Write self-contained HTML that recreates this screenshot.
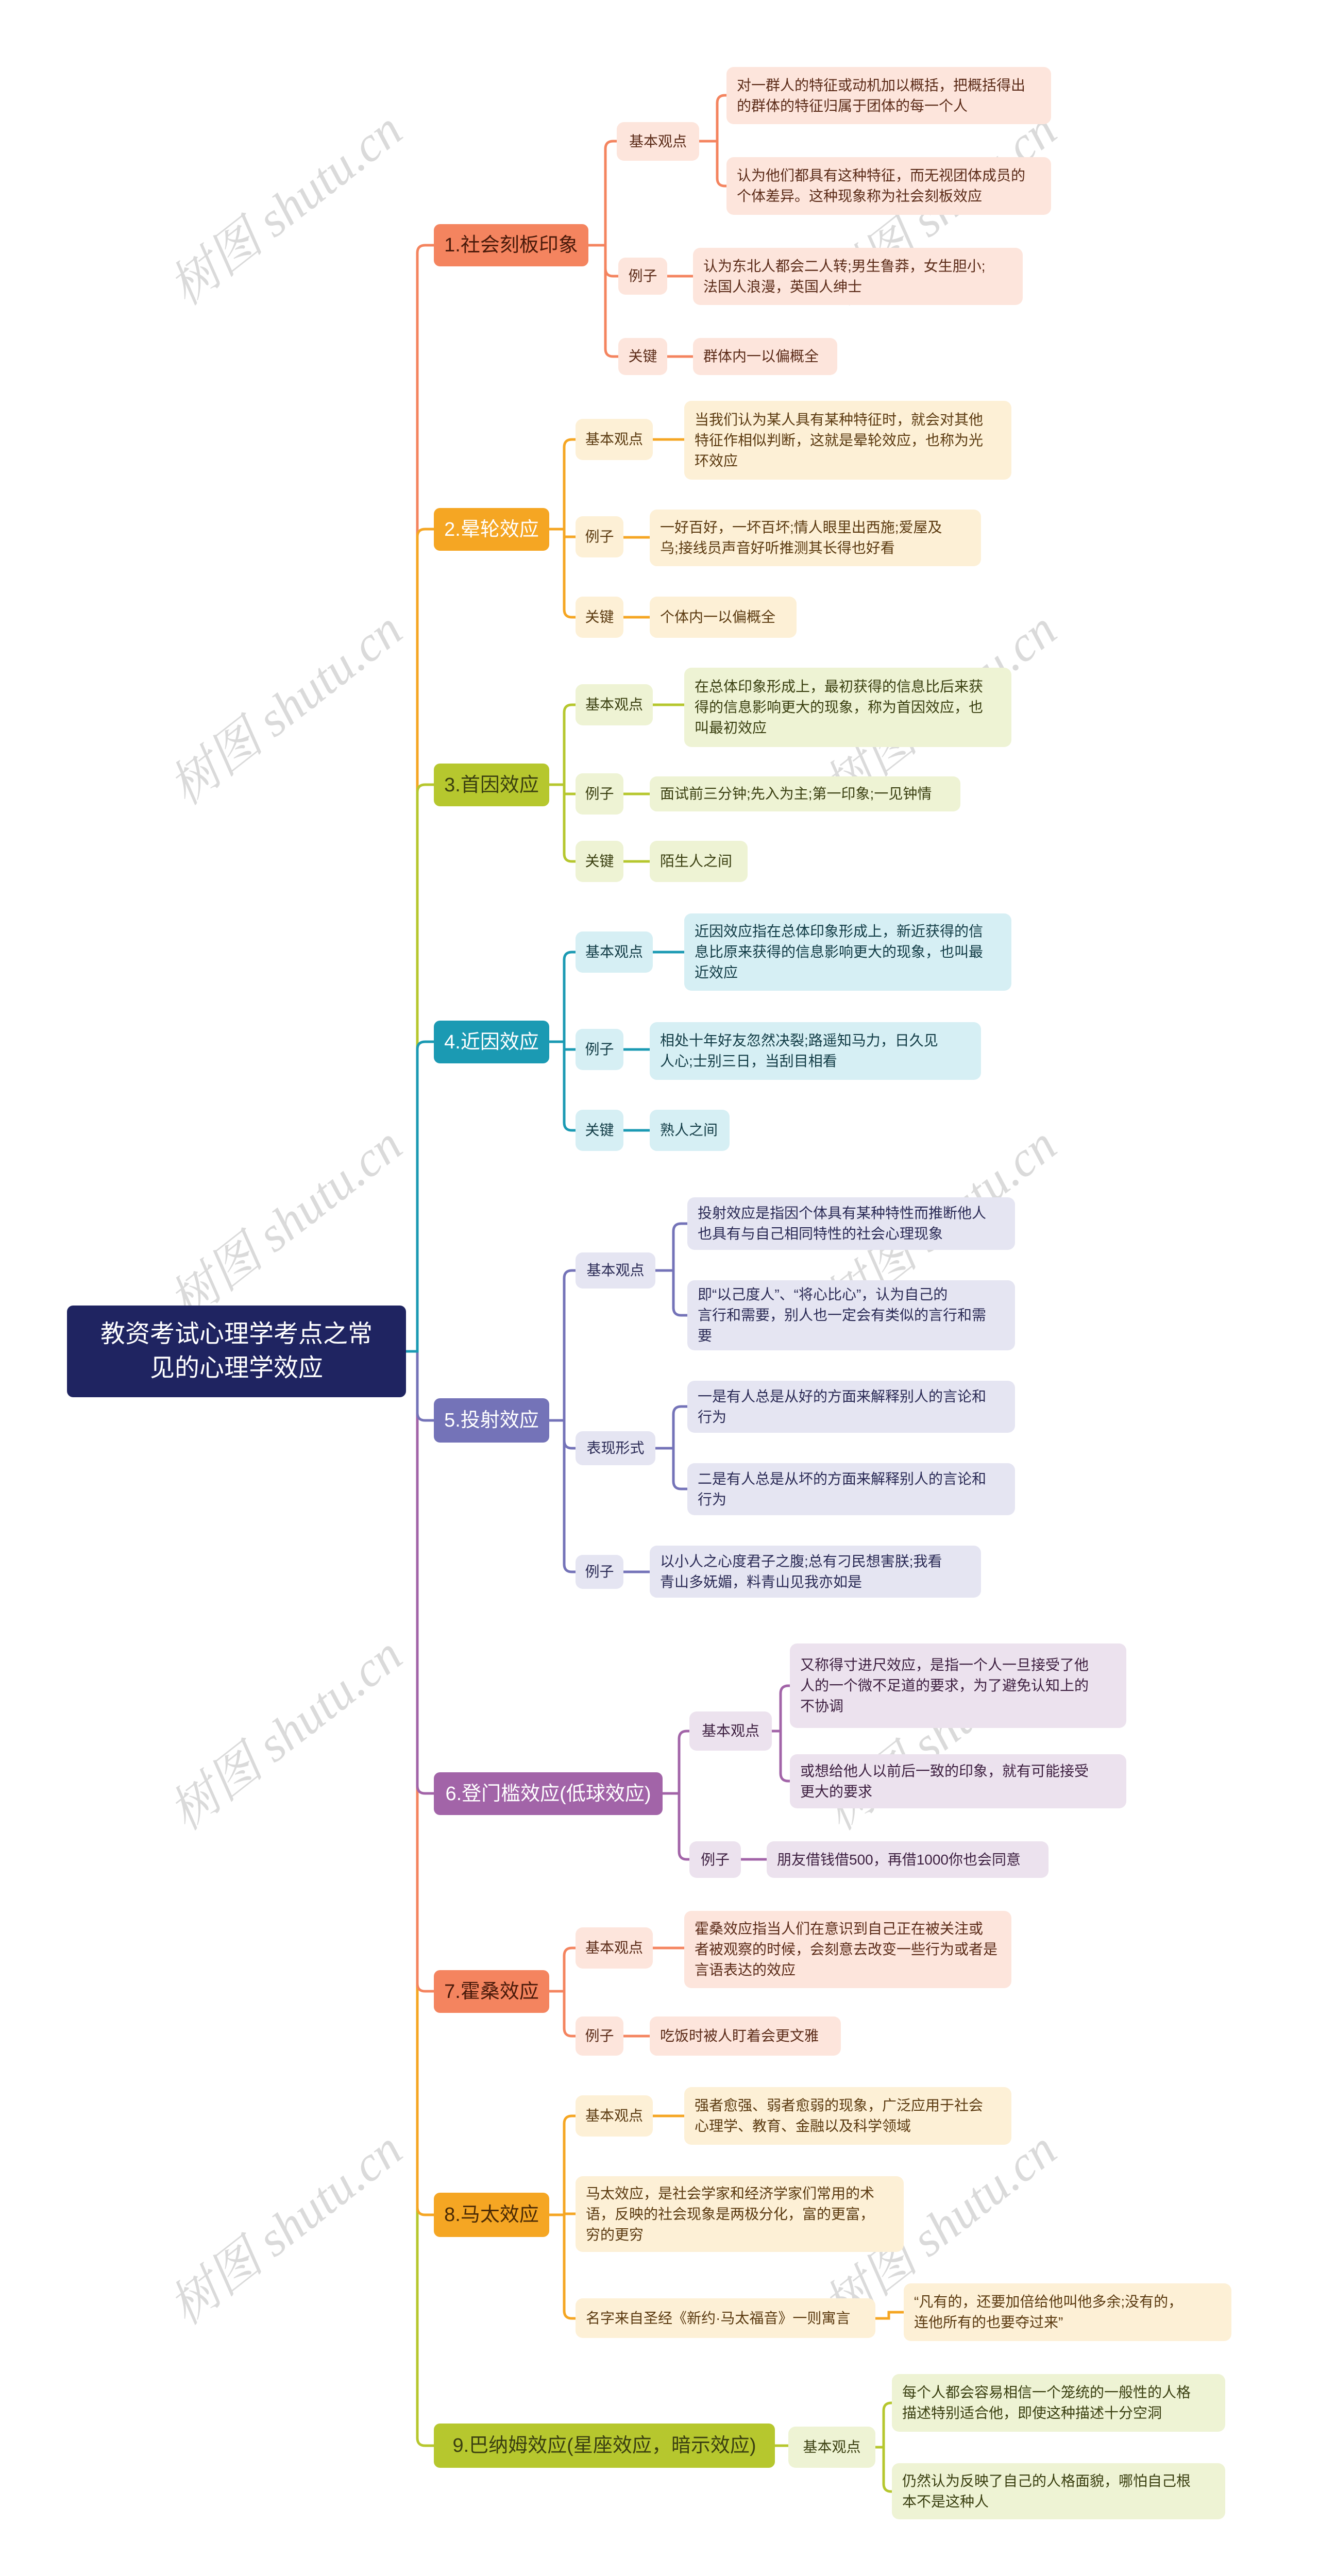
<!DOCTYPE html>
<html><head><meta charset="utf-8">
<style>
html{margin:0;padding:0;width:2560px;height:5097px;overflow:hidden;}
body{margin:0;padding:0;background:#fff;width:2560px;height:5097px;position:relative;overflow:hidden;font-family:"Liberation Sans","Noto Sans CJK SC",sans-serif;}
.n{position:absolute;box-sizing:border-box;border-radius:14px;display:flex;align-items:center;font-size:28px;line-height:40px;padding:0 20px;color:#333;}
.c{justify-content:center;padding:0;}
.m{font-size:38px;justify-content:center;padding:0;border-radius:12px;}
.f1{background:#fde5dc;color:#5b2b18}.f2{background:#fdf0d6;color:#5b3a10}.f3{background:#eef3d4;color:#3a3f10}
.f4{background:#d6eff4;color:#123c46}.f5{background:#e5e5f2;color:#2a2a55}.f6{background:#ece2ee;color:#3d1f40}
.wm{position:absolute;font-family:"Liberation Serif","Noto Serif CJK SC",serif;font-style:italic;font-size:96px;color:rgba(150,150,150,0.35);transform:rotate(-38deg);white-space:nowrap;}
svg{position:absolute;left:0;top:0;}
path{fill:none;stroke-width:5;}
</style></head><body>
<svg width="2560" height="5097">
<path stroke="#b6c72e" d="M788 2623 H810 V4732 Q810 4747 825 4747 H842"/>
<path stroke="#f5a623" d="M810 2623 V4284 Q810 4299 825 4299 H842"/>
<path stroke="#f4845f" d="M810 2623 V3850 Q810 3865 825 3865 H842"/>
<path stroke="#a264a8" d="M810 2623 V3466 Q810 3481 825 3481 H842"/>
<path stroke="#7473b8" d="M810 2623 V2742 Q810 2757 825 2757 H842"/>
<path stroke="#f4845f" d="M810 2623 V491 Q810 476 825 476 H842"/>
<path stroke="#f5a623" d="M810 2623 V1042 Q810 1027 825 1027 H842"/>
<path stroke="#b6c72e" d="M810 2623 V1538 Q810 1523 825 1523 H842"/>
<path stroke="#1b9ab3" d="M788 2623 H810 V2037 Q810 2022 825 2022 H842"/>
<g stroke="#f4845f">
<path d="M1142 476 H1175 V289 Q1175 274 1190 274 H1197"/>
<path d="M1175 476 V521 Q1175 536 1190 536 H1200"/>
<path d="M1175 476 V677 Q1175 692 1190 692 H1200"/>
<path d="M1357 274 H1392 V200 Q1392 185 1407 185 H1410"/>
<path d="M1392 274 V346 Q1392 361 1407 361 H1410"/>
<path d="M1295 536 H1345"/><path d="M1295 692 H1345"/>
</g>
<g stroke="#f5a623">
<path d="M1066 1027 H1095 V868 Q1095 853 1110 853 H1117"/>
<path d="M1095 1027 V1042 H1117"/>
<path d="M1095 1027 V1183 Q1095 1198 1110 1198 H1117"/>
<path d="M1267 853 H1328"/><path d="M1210 1043 H1261"/><path d="M1210 1198 H1261"/>
</g>
<g stroke="#b6c72e">
<path d="M1066 1523 H1095 V1383 Q1095 1368 1110 1368 H1117"/>
<path d="M1095 1523 V1541 H1117"/>
<path d="M1095 1523 V1657 Q1095 1672 1110 1672 H1117"/>
<path d="M1267 1368 H1328"/><path d="M1210 1541 H1261"/><path d="M1210 1672 H1261"/>
</g>
<g stroke="#1b9ab3">
<path d="M1066 2022 H1095 V1863 Q1095 1848 1110 1848 H1117"/>
<path d="M1095 2022 V2037 H1117"/>
<path d="M1095 2022 V2179 Q1095 2194 1110 2194 H1117"/>
<path d="M1267 1848 H1328"/><path d="M1210 2037 H1261"/><path d="M1210 2194 H1261"/>
</g>
<g stroke="#7473b8">
<path d="M1066 2757 H1095 V2481 Q1095 2466 1110 2466 H1117"/>
<path d="M1095 2757 V2796 Q1095 2811 1110 2811 H1117"/>
<path d="M1095 2757 V3036 Q1095 3051 1110 3051 H1117"/>
<path d="M1272 2466 H1307 V2390 Q1307 2375 1322 2375 H1334"/>
<path d="M1307 2466 V2538 Q1307 2553 1322 2553 H1334"/>
<path d="M1272 2811 H1307 V2745 Q1307 2730 1322 2730 H1334"/>
<path d="M1307 2811 V2875 Q1307 2890 1322 2890 H1334"/>
<path d="M1210 3051 H1261"/>
</g>
<g stroke="#a264a8">
<path d="M1286 3481 H1318 V3375 Q1318 3360 1333 3360 H1338"/>
<path d="M1318 3481 V3594 Q1318 3609 1333 3609 H1338"/>
<path d="M1498 3360 H1515 V3287 Q1515 3272 1530 3272 H1533"/>
<path d="M1515 3360 V3442 Q1515 3457 1530 3457 H1533"/>
<path d="M1438 3609 H1488"/>
</g>
<g stroke="#f4845f">
<path d="M1066 3865 H1095 V3796 Q1095 3781 1110 3781 H1117"/>
<path d="M1095 3865 V3937 Q1095 3952 1110 3952 H1117"/>
<path d="M1267 3781 H1328"/><path d="M1210 3952 H1261"/>
</g>
<g stroke="#f5a623">
<path d="M1066 4299 H1095 V4122 Q1095 4107 1110 4107 H1117"/>
<path d="M1095 4299 V4297 H1117"/>
<path d="M1095 4299 V4485 Q1095 4500 1110 4500 H1117"/>
<path d="M1267 4107 H1328"/><path d="M1699 4500 H1725 V4488 H1754"/>
</g>
<g stroke="#b6c72e">
<path d="M1504 4747 H1530"/>
<path d="M1699 4750 H1715 V4679 Q1715 4664 1730 4664 H1731"/>
<path d="M1715 4750 V4821 Q1715 4836 1730 4836 H1731"/>
</g>
</svg>

<div class="wm" style="left:280px;top:330px">树图 shutu.cn</div>
<div class="wm" style="left:1550px;top:330px">树图 shutu.cn</div>
<div class="wm" style="left:280px;top:1300px">树图 shutu.cn</div>
<div class="wm" style="left:1550px;top:1300px">树图 shutu.cn</div>
<div class="wm" style="left:280px;top:2300px">树图 shutu.cn</div>
<div class="wm" style="left:1550px;top:2300px">树图 shutu.cn</div>
<div class="wm" style="left:280px;top:3290px">树图 shutu.cn</div>
<div class="wm" style="left:1550px;top:3290px">树图 shutu.cn</div>
<div class="wm" style="left:280px;top:4250px">树图 shutu.cn</div>
<div class="wm" style="left:1550px;top:4250px">树图 shutu.cn</div>

<div class="n m" style="left:130px;top:2534px;width:658px;height:178px;background:#1f2461;color:#fff;font-size:48px;line-height:66px;text-align:center;">教资考试心理学考点之常<br>见的心理学效应</div>

<div class="n m" style="left:842px;top:435px;width:300px;height:82px;background:#f4845f;color:#4a1a0a">1.社会刻板印象</div>
<div class="n m" style="left:842px;top:986px;width:224px;height:83px;background:#f5a623;color:#fff">2.晕轮效应</div>
<div class="n m" style="left:842px;top:1482px;width:224px;height:83px;background:#b6c72e;color:#3a3f10">3.首因效应</div>
<div class="n m" style="left:842px;top:1981px;width:224px;height:83px;background:#1b9ab3;color:#fff">4.近因效应</div>
<div class="n m" style="left:842px;top:2714px;width:224px;height:86px;background:#7473b8;color:#fff">5.投射效应</div>
<div class="n m" style="left:842px;top:3440px;width:444px;height:83px;background:#a264a8;color:#fff">6.登门槛效应(低球效应)</div>
<div class="n m" style="left:842px;top:3824px;width:224px;height:83px;background:#f4845f;color:#4a1a0a">7.霍桑效应</div>
<div class="n m" style="left:842px;top:4256px;width:224px;height:86px;background:#f5a623;color:#4a2a05">8.马太效应</div>
<div class="n m" style="left:842px;top:4704px;width:662px;height:86px;background:#b6c72e;color:#3a3f10">9.巴纳姆效应(星座效应，暗示效应)</div>

<div class="n c f1" style="left:1197px;top:237px;width:160px;height:75px">基本观点</div>
<div class="n f1" style="left:1410px;top:130px;width:630px;height:111px">对一群人的特征或动机加以概括，把概括得出<br>的群体的特征归属于团体的每一个人</div>
<div class="n f1" style="left:1410px;top:305px;width:630px;height:112px">认为他们都具有这种特征，而无视团体成员的<br>个体差异。这种现象称为社会刻板效应</div>
<div class="n c f1" style="left:1200px;top:500px;width:95px;height:72px">例子</div>
<div class="n f1" style="left:1345px;top:481px;width:640px;height:111px">认为东北人都会二人转;男生鲁莽，女生胆小;<br>法国人浪漫，英国人绅士</div>
<div class="n c f1" style="left:1200px;top:656px;width:95px;height:72px">关键</div>
<div class="n f1" style="left:1345px;top:656px;width:280px;height:72px">群体内一以偏概全</div>

<div class="n c f2" style="left:1117px;top:813px;width:150px;height:80px">基本观点</div>
<div class="n f2" style="left:1328px;top:778px;width:635px;height:153px">当我们认为某人具有某种特征时，就会对其他<br>特征作相似判断，这就是晕轮效应，也称为光<br>环效应</div>
<div class="n c f2" style="left:1117px;top:1002px;width:93px;height:80px">例子</div>
<div class="n f2" style="left:1261px;top:989px;width:643px;height:110px">一好百好，一坏百坏;情人眼里出西施;爱屋及<br>乌;接线员声音好听推测其长得也好看</div>
<div class="n c f2" style="left:1117px;top:1158px;width:93px;height:80px">关键</div>
<div class="n f2" style="left:1261px;top:1158px;width:285px;height:80px">个体内一以偏概全</div>

<div class="n c f3" style="left:1117px;top:1328px;width:150px;height:80px">基本观点</div>
<div class="n f3" style="left:1328px;top:1296px;width:635px;height:154px">在总体印象形成上，最初获得的信息比后来获<br>得的信息影响更大的现象，称为首因效应，也<br>叫最初效应</div>
<div class="n c f3" style="left:1117px;top:1501px;width:93px;height:80px">例子</div>
<div class="n f3" style="left:1261px;top:1507px;width:603px;height:68px">面试前三分钟;先入为主;第一印象;一见钟情</div>
<div class="n c f3" style="left:1117px;top:1632px;width:93px;height:80px">关键</div>
<div class="n f3" style="left:1261px;top:1632px;width:190px;height:80px">陌生人之间</div>

<div class="n c f4" style="left:1117px;top:1808px;width:150px;height:80px">基本观点</div>
<div class="n f4" style="left:1328px;top:1773px;width:635px;height:150px">近因效应指在总体印象形成上，新近获得的信<br>息比原来获得的信息影响更大的现象，也叫最<br>近效应</div>
<div class="n c f4" style="left:1117px;top:1997px;width:93px;height:80px">例子</div>
<div class="n f4" style="left:1261px;top:1984px;width:643px;height:112px">相处十年好友忽然决裂;路遥知马力，日久见<br>人心;士别三日，当刮目相看</div>
<div class="n c f4" style="left:1117px;top:2154px;width:93px;height:80px">关键</div>
<div class="n f4" style="left:1261px;top:2154px;width:155px;height:80px">熟人之间</div>

<div class="n c f5" style="left:1117px;top:2431px;width:155px;height:70px">基本观点</div>
<div class="n f5" style="left:1334px;top:2324px;width:636px;height:102px">投射效应是指因个体具有某种特性而推断他人<br>也具有与自己相同特性的社会心理现象</div>
<div class="n f5" style="left:1334px;top:2485px;width:636px;height:136px">即“以己度人”、“将心比心”，认为自己的<br>言行和需要，别人也一定会有类似的言行和需<br>要</div>
<div class="n c f5" style="left:1117px;top:2778px;width:155px;height:66px">表现形式</div>
<div class="n f5" style="left:1334px;top:2680px;width:636px;height:101px">一是有人总是从好的方面来解释别人的言论和<br>行为</div>
<div class="n f5" style="left:1334px;top:2840px;width:636px;height:101px">二是有人总是从坏的方面来解释别人的言论和<br>行为</div>
<div class="n c f5" style="left:1117px;top:3018px;width:93px;height:66px">例子</div>
<div class="n f5" style="left:1261px;top:3000px;width:643px;height:101px">以小人之心度君子之腹;总有刁民想害朕;我看<br>青山多妩媚，料青山见我亦如是</div>

<div class="n c f6" style="left:1338px;top:3322px;width:160px;height:76px">基本观点</div>
<div class="n f6" style="left:1533px;top:3190px;width:653px;height:164px">又称得寸进尺效应，是指一个人一旦接受了他<br>人的一个微不足道的要求，为了避免认知上的<br>不协调</div>
<div class="n f6" style="left:1533px;top:3405px;width:653px;height:105px">或想给他人以前后一致的印象，就有可能接受<br>更大的要求</div>
<div class="n c f6" style="left:1338px;top:3574px;width:100px;height:71px">例子</div>
<div class="n f6" style="left:1488px;top:3574px;width:547px;height:71px">朋友借钱借500，再借1000你也会同意</div>

<div class="n c f1" style="left:1117px;top:3741px;width:150px;height:80px">基本观点</div>
<div class="n f1" style="left:1328px;top:3709px;width:635px;height:150px">霍桑效应指当人们在意识到自己正在被关注或<br>者被观察的时候，会刻意去改变一些行为或者是<br>言语表达的效应</div>
<div class="n c f1" style="left:1117px;top:3914px;width:93px;height:76px">例子</div>
<div class="n f1" style="left:1261px;top:3914px;width:371px;height:76px">吃饭时被人盯着会更文雅</div>

<div class="n c f2" style="left:1117px;top:4067px;width:150px;height:80px">基本观点</div>
<div class="n f2" style="left:1328px;top:4051px;width:635px;height:112px">强者愈强、弱者愈弱的现象，广泛应用于社会<br>心理学、教育、金融以及科学领域</div>
<div class="n f2" style="left:1117px;top:4224px;width:637px;height:147px">马太效应，是社会学家和经济学家们常用的术<br>语，反映的社会现象是两极分化，富的更富，<br>穷的更穷</div>
<div class="n f2" style="left:1117px;top:4461px;width:582px;height:77px">名字来自圣经《新约·马太福音》一则寓言</div>
<div class="n f2" style="left:1754px;top:4432px;width:636px;height:112px">“凡有的，还要加倍给他叫他多余;没有的，<br>连他所有的也要夺过来”</div>

<div class="n c f3" style="left:1530px;top:4710px;width:169px;height:80px">基本观点</div>
<div class="n f3" style="left:1731px;top:4608px;width:647px;height:112px">每个人都会容易相信一个笼统的一般性的人格<br>描述特别适合他，即使这种描述十分空洞</div>
<div class="n f3" style="left:1731px;top:4781px;width:647px;height:109px">仍然认为反映了自己的人格面貌，哪怕自己根<br>本不是这种人</div>
</body></html>
